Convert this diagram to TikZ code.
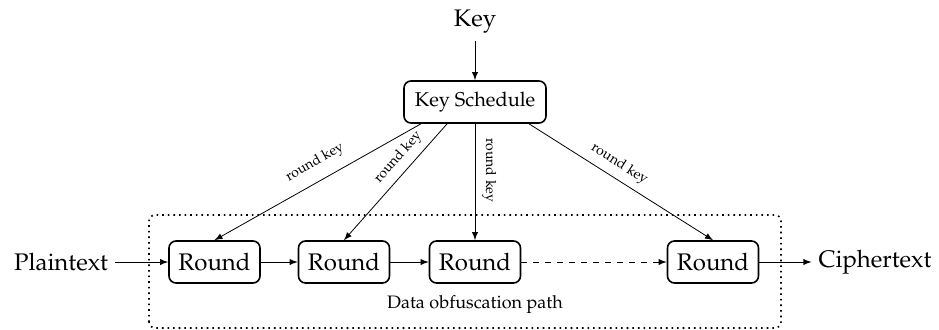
\documentclass[tikz,border=0pt]{standalone}
\usepackage[T1]{fontenc}
\usepackage{mathpazo}
\usepackage{amsmath, amssymb}
\usetikzlibrary{positioning, arrows}

\tikzset{
    block/.style={draw, thick, rounded corners=3.5pt, minimum height=21pt, inner sep=0pt},
    rnd/.style={block, minimum width=45.5pt},
    rkey/.style={sloped, above, font=\scriptsize},
}

\begin{document}
\begin{tikzpicture}[>=latex, on grid, font=\large]
    \useasboundingbox (0,0) rectangle (469.5pt,164.5pt);
    \node[block, minimum width=71pt, font=\normalsize] (ks) at (237.5pt,113.5pt) {Key Schedule};
    \node (key) [above=40pt of ks] {Key};
    \node[rnd] (r3) [below=80pt of ks] {Round};
    \node[rnd] (r2) [left=65.5pt of r3] {Round};
    \node[rnd] (r1) [left=64.75pt of r2] {Round};
    \node[rnd] (r4) [right=119pt of r3] {Round};
    \node (plain) [left=76.75pt of r1] {Plaintext};
    \node (cipher) [right=81pt of r4] {Ciphertext};
    \node[font=\small] (obf) [below=21.5pt of r3] {Data obfuscation path};

    % dotted frame round the rounds
    \draw[dotted, thick, rounded corners=3pt] (74.5pt,0.5pt) rectangle (390.5pt,57pt);

    \path[->]
        (key) edge (ks)
        (ks.-158) edge node[rkey, pos=0.47, yshift=2pt] {round key} (r1.north)
        (ks.-142) edge node[rkey, pos=0.37] {round key} (r2.north)
        (ks.south) edge node[rkey, pos=0.4] {round key} (r3.north)
        (ks.-22) edge node[rkey, pos=0.45] {round key} (r4.north)
        (plain) edge (r1)
        (r1) edge (r2)
        (r2) edge (r3)
        (r3) edge [dashed] (r4)
        (r4) edge (cipher);
\end{tikzpicture}
\end{document}
